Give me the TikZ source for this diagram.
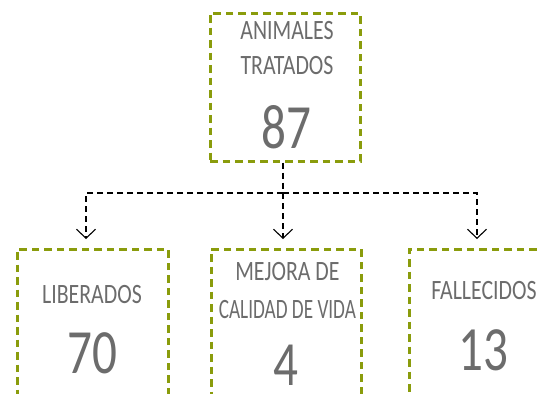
\documentclass[tikz,border=0pt]{standalone}
\usepackage{fontspec}
\usetikzlibrary{arrows.meta}
\newfontfamily\condfont[FakeStretch=0.78]{Carlito}
\definecolor{boxgreen}{HTML}{8A9C0C}
\definecolor{txtgray}{HTML}{6C6C6C}
\tikzset{
  gbox/.style={draw=boxgreen, line width=3pt, dash pattern=on 7.5pt off 5pt, rectangle, inner sep=0pt},
  lbl/.style={anchor=base, text=txtgray, inner sep=0pt, font=\condfont\fontsize{28}{30}\selectfont},
  num/.style={anchor=base, text=txtgray, inner sep=0pt, font=\condfont\fontsize{63}{66}\selectfont},
  conn/.style={draw=black, line width=1.1pt, dash pattern=on 6pt off 4pt},
  tip/.style={-{Straight Barb[length=9pt,width=19pt,line width=1.1pt]}}
}
\begin{document}
\begin{tikzpicture}[x=1pt,y=-1pt]
\useasboundingbox (0,0) rectangle (542,394);
\clip (0,0) rectangle (542,394);
% boxes
\node[gbox, minimum width=150pt, minimum height=148pt] (top) at (285,87) {};
\node[gbox, minimum width=151pt, minimum height=170pt] (left) at (92.5,334) {};
\node[gbox, minimum width=150pt, minimum height=170pt] (mid) at (286,334) {};
\node[gbox, minimum width=160pt, minimum height=170pt] (right) at (489,334) {};
% texts
\node[lbl] (t1) at (287,39) {ANIMALES};
\node[lbl] (t2) at (287,74.5) {TRATADOS};
\node[num] (t3) at (286,148) {87};
\node[lbl] (l1) at (92,303) {LIBERADOS};
\node[num] (l2) at (92.5,373) {70};
\node[lbl] (m1) at (287.4,280) {MEJORA DE};
\node[lbl] (m2) at (287.4,318.3) {\scalebox{0.88}[1]{CALIDAD DE VIDA}};
\node[num] (m3) at (285.5,385) {4};
\node[lbl] (r1) at (484,299.3) {FALLECIDOS};
\node[num] (r2) at (483,370) {13};
% connectors
\coordinate (hub) at (283,193);
\coordinate (aL) at (86,239);
\coordinate (aM) at (283,239);
\coordinate (aR) at (477,239);
\draw[conn] (top.south -| hub) -- (hub);
\draw[conn, tip] (hub) -| (aL);
\draw[conn, tip] (hub) -- (aM);
\draw[conn, tip] (hub) -| (aR);
\end{tikzpicture}
\end{document}
